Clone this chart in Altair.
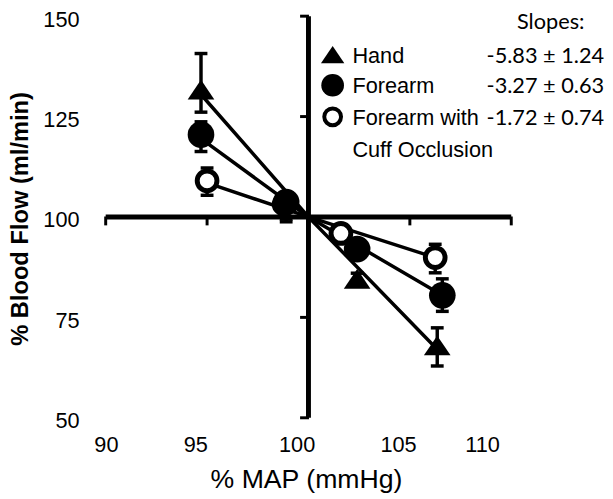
import altair as alt
import pandas as pd

# ---------------- data ----------------
series = ["Hand", "Forearm", "Forearm with Cuff Occlusion"]
legend_labels = ["Hand", "Forearm", "Forearm with\nCuff Occlusion"]
slopes = ["-5.83 ± 1.24", "-3.27 ± 0.63", "-1.72 ± 0.74"]

x_ticks = [90, 95, 100, 105, 110]
y_ticks = [50, 75, 100, 125, 150]

# % MAP (x), % blood flow (y), error bar ends
hand_x = [94.7, 98.9, 102.4, 106.35]
hand_y = [131.7, 104.2, 84.6, 68.0]
hand_hi = [140.7, 105.0, 86.0, 72.4]
hand_lo = [126.1, 99.5, 83.0, 62.9]

fore_x = [94.7, 98.9, 102.4, 106.6]
fore_y = [120.5, 103.7, 92.0, 80.5]
fore_hi = [123.7, 106.0, 94.0, 84.6]
fore_lo = [116.3, 98.8, 90.0, 76.5]

cuff_x = [95.0, 98.8, 101.6, 106.25]
cuff_y = [109.0, 103.2, 95.9, 89.9]
cuff_hi = [112.2, 105.0, 97.5, 93.2]
cuff_lo = [105.4, 101.0, 94.5, 86.1]

# fitted lines (through the axis crossing)
hand_line_x = [94.7, 100, 106.2]
hand_line_y = [130.5, 100, 67.8]
fore_line_x = [94.7, 100, 106.6]
fore_line_y = [119.5, 100, 80.5]
cuff_line_x = [95.0, 100, 106.25]
cuff_line_y = [108.5, 100, 89.9]

# ---------------- tables ----------------
pts = pd.concat([
    pd.DataFrame({"series": series[0], "x": hand_x, "y": hand_y, "lo": hand_lo, "hi": hand_hi}),
    pd.DataFrame({"series": series[1], "x": fore_x, "y": fore_y, "lo": fore_lo, "hi": fore_hi}),
    pd.DataFrame({"series": series[2], "x": cuff_x, "y": cuff_y, "lo": cuff_lo, "hi": cuff_hi}),
], ignore_index=True)

lines = pd.concat([
    pd.DataFrame({"series": series[0], "x": hand_line_x, "y": hand_line_y, "o": [0, 1, 2]}),
    pd.DataFrame({"series": series[1], "x": fore_line_x, "y": fore_line_y, "o": [0, 1, 2]}),
    pd.DataFrame({"series": series[2], "x": cuff_line_x, "y": cuff_line_y, "o": [0, 1, 2]}),
], ignore_index=True)

FONT = "Liberation Sans"

x_axis = alt.Axis(values=x_ticks, labelFontSize=22, labelPadding=17, labelOffset=-12,
                  tickSize=0, title="% MAP (mmHg)", titleFontSize=27,
                  titleFontWeight="normal", titleX=203, titleY=71,
                  titleAlign="center", titleBaseline="alphabetic")
y_axis = alt.Axis(values=y_ticks, labelFontSize=22, labelPadding=27, tickSize=0,
                  labelBaseline="middle", labelOffset=3,
                  title="% Blood Flow (ml/min)", titleFontSize=24,
                  titleFontWeight="bold", titleX=-86, titleY=205, titleAngle=270,
                  titleAlign="center", titleBaseline="middle")


def xs():
    return alt.Scale(domain=[x_ticks[0], x_ticks[-1]], nice=False, zero=False)


def ys():
    return alt.Scale(domain=[y_ticks[0], y_ticks[-1]], nice=False, zero=False)


def X(field="x"):
    return alt.X(f"{field}:Q", scale=xs(), axis=x_axis)


def Y(field="y"):
    return alt.Y(f"{field}:Q", scale=ys(), axis=y_axis)


# crossing axis lines
hline_df = pd.DataFrame({"x": [x_ticks[0]], "x2": [x_ticks[-1]], "y": [y_ticks[2]]})
vline_df = pd.DataFrame({"x": [x_ticks[2]], "y": [y_ticks[0]], "y2": [y_ticks[-1]]})

hline = alt.Chart(hline_df).mark_rule(color="black", strokeWidth=5).encode(
    x=X(), x2="x2:Q", y=Y())
vline = alt.Chart(vline_df).mark_rule(color="black", strokeWidth=5).encode(
    x=X(), y=Y(), y2="y2:Q")

htick_df = pd.DataFrame({"x": [v for v in x_ticks if v != 100], "y": 100})
vtick_df = pd.DataFrame({"y": [v for v in y_ticks if v != 100], "x": 100})
hticks = alt.Chart(htick_df).mark_tick(orient="vertical", size=9, thickness=3,
                                       yOffset=4, color="black", opacity=1).encode(x=X(), y=Y())
vticks = alt.Chart(vtick_df).mark_tick(orient="horizontal", size=9, thickness=3,
                                       xOffset=-4, color="black", opacity=1).encode(x=X(), y=Y())

fit_lines = alt.Chart(lines).mark_line(color="black", strokeWidth=3.5).encode(
    x=X(), y=Y(), detail="series:N", order="o:Q")

err = alt.Chart(pts).mark_rule(color="black", strokeWidth=3.5).encode(
    x=X(), y=Y("lo"), y2="hi:Q")
cap_lo = alt.Chart(pts).mark_tick(orient="horizontal", size=13, thickness=3.5,
                                  color="black", opacity=1).encode(x=X(), y=Y("lo"))
cap_hi = alt.Chart(pts).mark_tick(orient="horizontal", size=13, thickness=3.5,
                                  color="black", opacity=1).encode(x=X(), y=Y("hi"))

TRI = "M0,-0.74L1,0.74L-1,0.74Z"

m_cuff = alt.Chart(pts).transform_filter(alt.datum.series == series[2]).mark_point(
    shape="circle", size=400, fill="white", filled=False, stroke="black",
    strokeWidth=5, opacity=1, fillOpacity=1).encode(x=X(), y=Y())
m_hand = alt.Chart(pts).transform_filter(alt.datum.series == series[0]).mark_point(
    shape=TRI, size=729, filled=True, color="black", opacity=1).encode(x=X(), y=Y())
m_fore = alt.Chart(pts).transform_filter(alt.datum.series == series[1]).mark_point(
    shape="circle", size=729, filled=True, color="black", opacity=1).encode(x=X(), y=Y())

# ---------------- legend (drawn by hand) ----------------
one = pd.DataFrame({"k": [0]})
leg_rows_y = [39, 70, 102]
leg_base_y = [47, 78, 110]
leg = []
leg.append(alt.Chart(one).mark_text(text="Slopes:", font="Lato", fontSize=22, align="center",
                                    baseline="alphabetic", color="black").encode(
    x=alt.value(451), y=alt.value(13)))
sym_specs = [
    dict(shape=TRI, size=560, filled=True, color="black", opacity=1),
    dict(shape="circle", size=529, filled=True, color="black", opacity=1),
    dict(shape="circle", size=289, filled=False, fill="white", stroke="black",
         strokeWidth=4, opacity=1, fillOpacity=1),
]
for i in range(3):
    leg.append(alt.Chart(one).mark_point(**sym_specs[i]).encode(
        x=alt.value(230), y=alt.value(leg_rows_y[i])))
    leg.append(alt.Chart(one).mark_text(text=legend_labels[i], font=FONT, fontSize=22,
                                        align="left", baseline="alphabetic", lineBreak="\n",
                                        lineHeight=33, color="black").encode(
        x=alt.value(250), y=alt.value(leg_base_y[i])))
    leg.append(alt.Chart(one).mark_text(text=slopes[i], font="Lato", fontSize=22,
                                        align="left", baseline="alphabetic",
                                        color="black").encode(
        x=alt.value(386), y=alt.value(leg_base_y[i])))

chart = alt.layer(
    hline, vline, hticks, vticks, fit_lines, err, cap_lo, cap_hi,
    m_cuff, m_hand, m_fore, *leg
).properties(
    width=411, height=407,
    autosize=alt.AutoSizeParams(type="none"),
    padding={"left": 99, "top": 5, "right": 95, "bottom": 78},
    background="white",
).configure_view(strokeWidth=0).configure_axis(
    grid=False, domain=False, ticks=False, labelColor="black", titleColor="black",
    labelFont=FONT, titleFont=FONT)

chart.save("out.html", embed_options={"renderer": "svg", "actions": False})
